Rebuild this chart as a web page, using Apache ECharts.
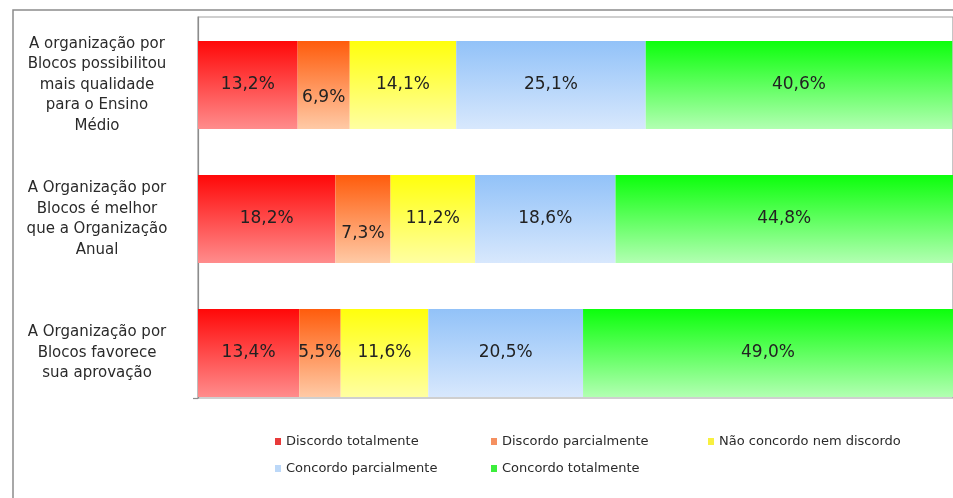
<!DOCTYPE html>
<html>
<head>
<meta charset="utf-8">
<script src="https://cdn.jsdelivr.net/npm/echarts@6/dist/echarts.min.js"></script>
<style>
  html, body { margin: 0; padding: 0; background: #fff; }
  #chart { width: 953px; height: 498px; }
</style>
</head>
<body>
<div id="chart"></div>
<script>
// Survey statements (one bar each)
const categories = [
  'A organização por\nBlocos possibilitou\nmais qualidade\npara o Ensino\nMédio',
  'A Organização por\nBlocos é melhor\nque a Organização\nAnual',
  'A Organização por\nBlocos favorece\nsua aprovação'
];

// Answer scale
const answers = [
  'Discordo totalmente',
  'Discordo parcialmente',
  'Não concordo nem discordo',
  'Concordo parcialmente',
  'Concordo totalmente'
];

// Share of answers per statement (%)
const discordoTotalmente   = [13.2, 18.2, 13.4];
const discordoParcialmente = [6.9, 7.3, 5.5];
const naoConcordoNem       = [14.1, 11.2, 11.6];
const concordoParcialmente = [25.1, 18.6, 20.5];
const concordoTotalmente   = [40.6, 44.8, 49.0];

const values = [discordoTotalmente, discordoParcialmente, naoConcordoNem,
                concordoParcialmente, concordoTotalmente];

// Fill gradients (top -> bottom) and legend swatch colours
const gradients = [
  ['#ff0808', '#ff8c8c'],
  ['#ff5c0c', '#ffcaa6'],
  ['#ffff0c', '#ffffa2'],
  ['#92c2f8', '#d8e8fd'],
  ['#0cff0c', '#b2ffb2']
];
const swatches = ['#e83a3a', '#f59060', '#f8f040', '#bcd8f8', '#3cee3c'];

// Narrow segments get their value label nudged down a little
const labelNudge = { '1-0': [0, 13], '1-1': [0, 15] };

const FONT = 'DejaVu Sans';

function pct(v) {
  return v.toFixed(1).replace('.', ',') + '%';
}

const series = answers.map((name, si) => ({
  name: name,
  type: 'bar',
  stack: 'total',
  xAxisIndex: 0,
  yAxisIndex: 0,
  barWidth: 88,
  itemStyle: {
    color: new echarts.graphic.LinearGradient(0, 0, 0, 1, [
      { offset: 0, color: gradients[si][0] },
      { offset: 1, color: gradients[si][1] }
    ])
  },
  label: {
    show: true,
    position: 'inside',
    fontFamily: FONT,
    fontSize: 17,
    color: '#222',
    formatter: p => pct(p.value)
  },
  emphasis: { disabled: true },
  data: values[si].map((v, ci) => {
    const off = labelNudge[si + '-' + ci];
    return off ? { value: v, label: { offset: off } } : v;
  })
}));

// One legend block per answer, laid out in a two-row grid
const legendSpots = [
  [275, 435], [491, 435], [708, 435],
  [275, 462], [491, 462]
];
const legends = answers.map((name, i) => ({
  left: legendSpots[i][0],
  top: legendSpots[i][1],
  padding: 0,
  itemWidth: 6,
  itemHeight: 7,
  icon: 'rect',
  selectedMode: false,
  textStyle: { fontFamily: FONT, fontSize: 13, color: '#2a2a2a' },
  data: [{ name: name, itemStyle: { color: swatches[i] } }]
}));

const chart = echarts.init(document.getElementById('chart'), null, { renderer: 'canvas' });

chart.setOption({
  animation: false,
  backgroundColor: '#fff',
  graphic: [{
    type: 'rect',
    shape: { x: 13, y: 10, width: 960, height: 500 },
    style: { fill: 'none', stroke: '#8c8c8c', lineWidth: 1.5 },
    silent: true
  }],
  grid: [
    // bars
    { left: 198, right: 0, top: 18, bottom: 78 },
    // plot frame
    { left: 198, right: 0, top: 17, bottom: 100, show: true,
      borderColor: '#a0a0a0', borderWidth: 1.2, backgroundColor: 'transparent' }
  ],
  xAxis: [
    { gridIndex: 0, type: 'value', min: 0, max: 100, show: false },
    { gridIndex: 1, type: 'value', min: 0, max: 1, show: false }
  ],
  yAxis: [
    {
      gridIndex: 0,
      type: 'category',
      inverse: true,
      data: categories,
      axisLine: { show: false },
      axisTick: { show: false },
      axisLabel: {
        fontFamily: FONT,
        fontSize: 15,
        color: '#2a2a2a',
        align: 'center',
        margin: 101,
        lineHeight: 20.5
      }
    },
    {
      gridIndex: 1,
      type: 'value',
      min: 0,
      max: 1,
      interval: 1,
      splitLine: { show: false },
      axisLabel: { show: false },
      axisLine: { show: true, lineStyle: { color: '#8c8c8c', width: 1.2 } },
      axisTick: { show: true, length: 5, customValues: [0],
                  lineStyle: { color: '#8c8c8c', width: 1.2 } }
    }
  ],
  legend: legends,
  series: series
});
</script>
</body>
</html>
